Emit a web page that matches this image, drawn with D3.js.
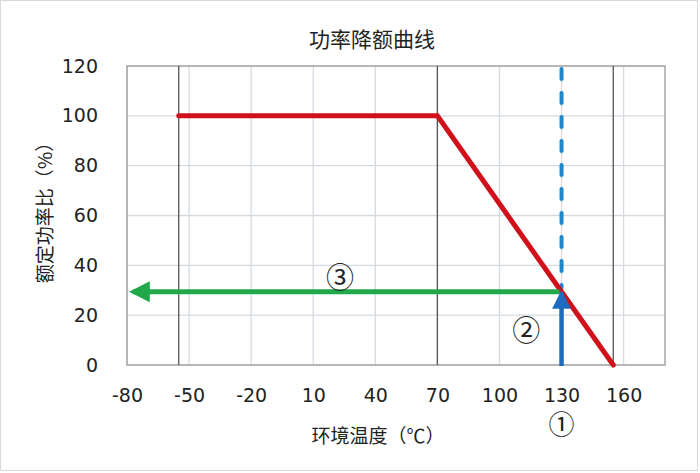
<!DOCTYPE html>
<html>
<head>
<meta charset="utf-8">
<script src="https://cdn.jsdelivr.net/npm/d3@7"></script>
<style>
  body { margin: 0; background: #fff; }
  svg { display: block; }
  text { font-family: "DejaVu Sans", "Noto Sans CJK SC", sans-serif; fill: #222; }
  .cjk { font-family: "Noto Sans CJK SC", sans-serif; }
</style>
</head>
<body>
<div id="chart"></div>
<script>
// chart values
let xTicks = [-80, -50, -20, 10, 40, 70, 100, 130, 160];
let yTicks = [0, 20, 40, 60, 80, 100, 120];
let curveTemp = [-55, 70, 155];
let curvePower = [100, 100, 0];
let refTemps = [-55, 70, 155];
let opTemp = 130;
let opPower = 29.4;
let arrowEndTemp = -80;
let marks = [
  { label: "\u2460", x: 130, y: -24 },
  { label: "\u2461", x: 113, y: 13.5 },
  { label: "\u2462", x: 23, y: 35 }
];

let width = 700,
    height = 473,
    margin = { top: 66, right: 35, bottom: 108, left: 127 };

let svg = d3.select("#chart")
  .append("svg")
  .attr("width", width)
  .attr("height", height);

// outer frame
svg.append("rect")
  .attr("x", 0.5).attr("y", 0.5)
  .attr("width", width - 3).attr("height", height - 3)
  .attr("fill", "#fff")
  .attr("stroke", "#d9d9d9");

let x = d3.scaleLinear()
  .domain([-80, 180])
  .range([margin.left, width - margin.right]);

let y = d3.scaleLinear()
  .domain([0, 120])
  .range([height - margin.bottom, margin.top]);

// grid
svg.append("g")
  .selectAll("line")
  .data(xTicks)
  .enter()
  .append("line")
  .attr("x1", d => x(d)).attr("x2", d => x(d))
  .attr("y1", y(0)).attr("y2", y(120))
  .attr("stroke", "#d6dbe2")
  .attr("stroke-width", 1.3);

svg.append("g")
  .selectAll("line")
  .data(yTicks)
  .enter()
  .append("line")
  .attr("x1", x(-80)).attr("x2", x(180))
  .attr("y1", d => y(d)).attr("y2", d => y(d))
  .attr("stroke", "#d6dbe2")
  .attr("stroke-width", 1.3);

// plot border
svg.append("rect")
  .attr("x", x(-80)).attr("y", y(120))
  .attr("width", x(180) - x(-80))
  .attr("height", y(0) - y(120))
  .attr("fill", "none")
  .attr("stroke", "#a6a6a6")
  .attr("stroke-width", 1.5);

// dark reference lines
svg.append("g")
  .selectAll("line")
  .data(refTemps)
  .enter()
  .append("line")
  .attr("x1", d => x(d)).attr("x2", d => x(d))
  .attr("y1", y(0)).attr("y2", y(120))
  .attr("stroke", "#555")
  .attr("stroke-width", 1.3);

// axes
let xAxis = svg.append("g")
  .attr("transform", "translate(0," + (y(0) + 30) + ")")
  .call(d3.axisBottom(x).tickValues(xTicks).tickSize(0).tickPadding(0)
    .tickFormat(d => String(d)));
xAxis.select(".domain").remove();
xAxis.selectAll("text")
  .attr("font-size", 19)
  .attr("font-family", "DejaVu Sans")
  .attr("fill", "#222")
  .attr("dy", "0.35em");

let yAxis = svg.append("g")
  .attr("transform", "translate(" + (x(-80) - 29) + ",0)")
  .call(d3.axisLeft(y).tickValues(yTicks).tickSize(0).tickPadding(0)
    .tickFormat(d => String(d)));
yAxis.select(".domain").remove();
yAxis.selectAll("text")
  .attr("font-size", 19)
  .attr("font-family", "DejaVu Sans")
  .attr("fill", "#222");

// blue dashed line
svg.append("line")
  .attr("x1", x(opTemp)).attr("x2", x(opTemp))
  .attr("y1", y(120) + 3).attr("y2", y(opPower) - 4)
  .attr("stroke", "#1f86c8")
  .attr("stroke-width", 4)
  .attr("stroke-linecap", "round")
  .attr("stroke-dasharray", "10 14");

// derating curve
let line = d3.line()
  .x(d => x(d[0]))
  .y(d => y(d[1]));

svg.append("path")
  .datum(d3.zip(curveTemp, curvePower))
  .attr("d", line)
  .attr("fill", "none")
  .attr("stroke", "#d0111b")
  .attr("stroke-width", 5)
  .attr("stroke-linecap", "round");

// arrow heads
let defs = svg.append("defs");
function arrow(id, color) {
  defs.append("marker")
    .attr("id", id)
    .attr("viewBox", "0 0 10 10")
    .attr("refX", 8).attr("refY", 5)
    .attr("markerWidth", 4.2).attr("markerHeight", 4.2)
    .attr("markerUnits", "strokeWidth")
    .attr("orient", "auto")
    .append("path")
    .attr("d", "M0,0 L10,5 L0,10 Z")
    .attr("fill", color);
}
arrow("arrowGreen", "#21a84a");
arrow("arrowBlue", "#1e6cbf");

// green arrow
svg.append("line")
  .attr("x1", x(opTemp) - 2).attr("x2", x(arrowEndTemp) + 6)
  .attr("y1", y(opPower)).attr("y2", y(opPower))
  .attr("stroke", "#21a84a")
  .attr("stroke-width", 5)
  .attr("marker-end", "url(#arrowGreen)");

// blue arrow
svg.append("line")
  .attr("x1", x(opTemp)).attr("x2", x(opTemp))
  .attr("y1", y(0) + 1).attr("y2", y(opPower) + 2)
  .attr("stroke", "#1e6cbf")
  .attr("stroke-width", 4.5)
  .attr("marker-end", "url(#arrowBlue)");

// circled numbers
svg.selectAll(".mark")
  .data(marks)
  .enter()
  .append("text")
  .attr("class", "mark cjk")
  .attr("x", d => x(d.x))
  .attr("y", d => y(d.y))
  .attr("text-anchor", "middle")
  .attr("dy", "0.35em")
  .attr("font-size", d => d.x === 130 ? 26 : 28)
  .text(d => d.label);

// titles
svg.append("text")
  .attr("class", "cjk")
  .attr("x", 372).attr("y", 40)
  .attr("text-anchor", "middle")
  .attr("dy", "0.35em")
  .attr("font-size", 21)
  .text("功率降额曲线");

svg.append("text")
  .attr("class", "cjk")
  .attr("x", 378).attr("y", 436)
  .attr("text-anchor", "middle")
  .attr("dy", "0.35em")
  .attr("font-size", 19)
  .text("环境温度（℃）");

svg.append("text")
  .attr("class", "cjk")
  .attr("transform", "translate(45," + 208 + ") rotate(-90)")
  .attr("text-anchor", "middle")
  .attr("dy", "0.35em")
  .attr("font-size", 19)
  .text("额定功率比（%）");
</script>
</body>
</html>
